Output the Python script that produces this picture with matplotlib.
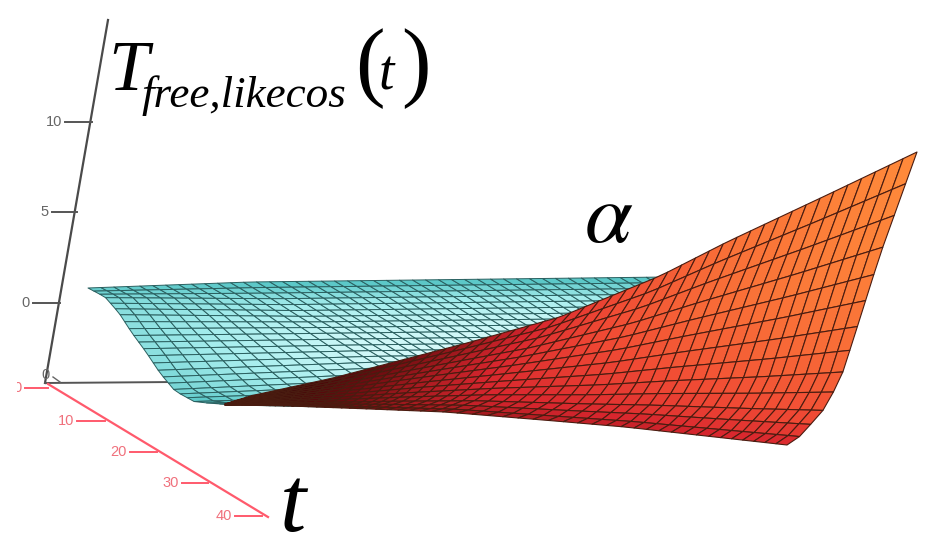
import numpy as np
import matplotlib
matplotlib.use('Agg')
import matplotlib.pyplot as plt
from matplotlib.collections import PolyCollection
from matplotlib.colors import LinearSegmentedColormap
from matplotlib.patches import Polygon, Rectangle

plt.rcParams['mathtext.fontset'] = 'stix'

# everything is read off the picture, in picture pixels
# teal sheet: control rows (back to front) x control columns (left to right)
teal_v = [0, .125, .25, .375, .5, .625, .75, .875, 1]
teal_u = [0, .245, .622, 1]
teal_x = [[88, 250, 500, 750],
          [105, 277, 527, 777],
          [119, 304, 554, 804],
          [132, 331, 581, 831],
          [146, 358, 608, 858],
          [160, 385, 635, 885],
          [175, 412, 662, 912],
          [195, 439, 689, 939],
          [233, 466, 716, 966]]
teal_y = [[288, 282, 279, 276],
          [297, 298, 295, 292],
          [313, 315, 312, 309],
          [333, 331, 328, 325],
          [352, 348, 345, 342],
          [373, 364, 361, 358],
          [391, 380, 377, 374],
          [402, 395, 392, 389],
          [405, 410, 408, 405]]
teal_shade = [[.40, .35, .35, .35],
              [.50, .60, .65, .60],
              [.55, .75, .82, .80],
              [.55, .85, .92, .88],
              [.55, .90, 1, .95],
              [.50, .90, 1, .95],
              [.45, .85, 1, .95],
              [.30, .75, .95, .90],
              [.15, .65, .90, .90]]
teal_outline = [(60, 270), (660, 270), (700, 400), (233, 430), (60, 430)]

# red sheet: one column per entry, back edge (with the fold) and front edge
red_top_x = [225, 250, 333, 467, 560, 660, 727, 827, 917]
red_top_y = [404, 396, 378, 343, 317, 276, 242, 195, 152]
red_bot_x = [225, 240, 290, 370, 445, 555, 625, 715, 787]
red_bot_y = [405, 405, 406, 409, 412, 421, 427, 437, 445]
red_v = [0, .25, .5, .625, .75, .85, .92, 1]
red_wx = [0, .285, .49, .577, .70, .823, .90, 1]
red_wy = [0, .352, .64, .76, .87, .932, .97, 1]
red_shade_v = [0, .25, .5, .75, .92, 1]
red_shade = [[0, 0, 0, 0, 0, 0],
             [.05, .05, .05, .05, .05, .03],
             [.20, .22, .22, .20, .15, .10],
             [.42, .45, .45, .42, .35, .20],
             [.60, .60, .58, .52, .42, .30],
             [.78, .74, .66, .58, .50, .35],
             [.88, .84, .74, .62, .52, .38],
             [.95, .92, .82, .68, .56, .40],
             [1, .96, .86, .72, .58, .42]]

# axes
z_ticks = ['10', '5', '0']
z_tick_x0 = [65, 52, 33]
z_tick_x1 = [92, 77, 60]
z_tick_y = [122, 212, 303]
t_ticks = ['0', '10', '20', '30', '40']
t_tick_x0 = [25, 77, 130, 182, 235]
t_tick_x1 = [48, 105, 157, 208, 262]
t_tick_y = [388, 421, 452, 483, 516]


def refine(table, rows_from, cols_from, n_rows, n_cols):
    # fills the fine mesh between the read control points
    table = np.asarray(table, dtype=float)
    rows_to = np.linspace(0, 1, n_rows)
    cols_to = np.linspace(0, 1, n_cols)
    tmp = np.array([np.interp(rows_to, rows_from, table[:, j]) for j in range(table.shape[1])]).T
    return np.array([np.interp(cols_to, cols_from, tmp[i]) for i in range(n_rows)])


def cells(x, y, shade):
    polys = []
    vals = []
    for i in range(x.shape[0] - 1):
        for j in range(x.shape[1] - 1):
            polys.append([(x[i, j], y[i, j]), (x[i, j + 1], y[i, j + 1]),
                          (x[i + 1, j + 1], y[i + 1, j + 1]), (x[i + 1, j], y[i + 1, j])])
            vals.append(shade[i, j])
    return polys, np.array(vals)


fig = plt.figure(figsize=(9.52, 5.5), dpi=100)
ax = fig.add_axes([0, 0, 1, 1])
ax.set_xlim(0, 952)
ax.set_ylim(550, 0)
ax.axis('off')

teal_map = LinearSegmentedColormap.from_list('teal', ['#0c9090', '#58c6c6', '#a8eeee', '#e4fdfd'])
red_map = LinearSegmentedColormap.from_list('red', [(0, '#180000'), (.3, '#6e0c10'), (.55, '#d8262e'),
                                                    (.7, '#f04a34'), (1, '#ff8a3a')])

# axis lines go under the surface
ax.plot([45, 108], [383, 20], c='#4a4a4a', lw=1.6)
ax.plot([45, 175], [383, 382], c='#555555', lw=1.4)
ax.plot([53, 60], [377, 382], c='#666666', lw=1.0)
ax.plot([48, 268], [384, 517], c='#ff5a6c', lw=1.6)
for lab, x0, x1, y in zip(z_ticks, z_tick_x0, z_tick_x1, z_tick_y):
    ax.plot([x0, x1], [y, y], c='#555555', lw=1.4)
    ax.text(x0 - 3, y, lab, ha='right', va='center', fontsize=10.5, color='#666666',
            family='Liberation Sans')
for lab, x0, x1, y in zip(t_ticks, t_tick_x0, t_tick_x1, t_tick_y):
    ax.plot([x0, x1], [y, y], c='#ff5a6c', lw=1.4)
    txt = ax.text(x0 - 3, y, lab, ha='right', va='center', fontsize=10.5, color='#f0707c',
                  family='Liberation Sans')
    txt.set_clip_on(True)
    txt.set_clip_path(Rectangle((17, 0), 935, 550, transform=ax.transData))
ax.text(46, 375, '0', ha='center', va='center', fontsize=10.5, color='#666666',
        family='Liberation Sans')

# back sheet
x = refine(teal_x, teal_v, teal_u, 24, 52)
y = refine(teal_y, teal_v, teal_u, 24, 52)
s = refine(teal_shade, teal_v, teal_u, 24, 52)
polys, vals = cells(x, y, s)
pc = PolyCollection(polys, facecolors=teal_map(vals), edgecolors='#2a6060', linewidths=0.7, zorder=2)
ax.add_collection(pc)
pc.set_clip_path(Polygon(teal_outline, transform=ax.transData))

# front sheet
n_rows = 14
n_cols = 51
u_red = (np.array(red_top_x) - red_top_x[0]) / (red_top_x[-1] - red_top_x[0])
u_fine = np.linspace(0, 1, n_cols)
v_fine = np.linspace(0, 1, n_rows)
top_x = np.interp(u_fine, u_red, red_top_x)
top_y = np.interp(u_fine, u_red, red_top_y)
bot_x = np.interp(u_fine, u_red, red_bot_x)
bot_y = np.interp(u_fine, u_red, red_bot_y)
wx = np.interp(v_fine, red_v, red_wx)
wy = np.interp(v_fine, red_v, red_wy)
x = top_x[None, :] + (bot_x - top_x)[None, :] * wx[:, None]
y = top_y[None, :] + (bot_y - top_y)[None, :] * wy[:, None]
s = refine(np.array(red_shade).T, red_shade_v, u_red, n_rows, n_cols)
polys, vals = cells(x, y, s)
pc = PolyCollection(polys, facecolors=red_map(vals), edgecolors='#4a1c10', linewidths=0.8, zorder=3)
ax.add_collection(pc)

# labels
serif = 'Liberation Serif'
ax.text(108, 90, 'T', fontsize=52, style='italic', family=serif, color='black', zorder=5)
ax.text(142, 107, 'free,likecos', fontsize=32.5, style='italic', family=serif, color='black', zorder=5)
ax.text(355, 90, '(', fontsize=64, family=serif, color='black', zorder=5)
ax.text(379, 90, 't', fontsize=40, style='italic', family=serif, color='black', zorder=5)
ax.text(401, 90, ')', fontsize=64, family=serif, color='black', zorder=5)
ax.text(584, 242, r'$\alpha$', fontsize=62, color='black', zorder=5)
ax.text(280, 531, 't', fontsize=68, style='italic', family=serif, color='black', zorder=5)

fig.savefig('out.png', dpi=100)
